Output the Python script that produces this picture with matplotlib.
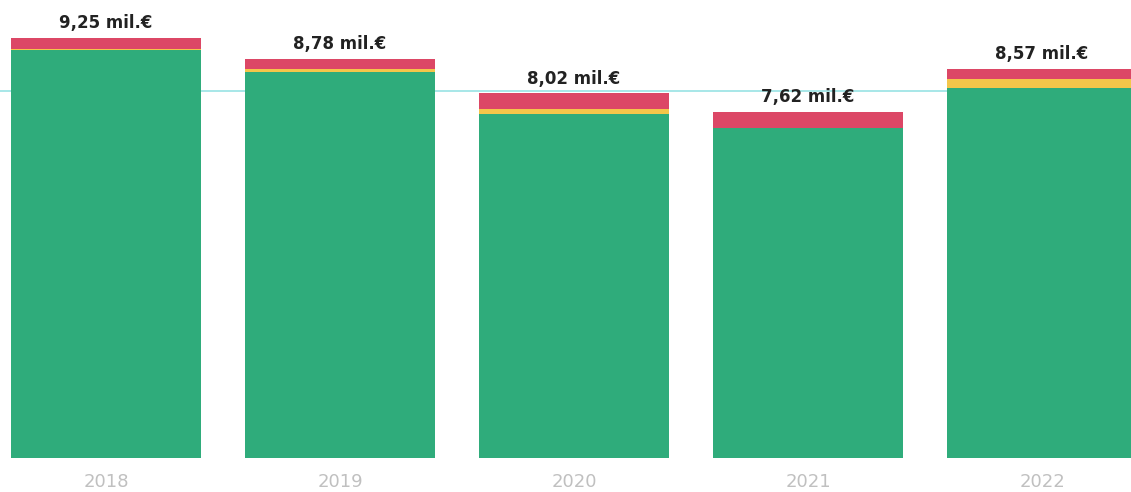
import matplotlib
matplotlib.use("Agg")
import matplotlib.pyplot as plt
import numpy as np

# Values in millions of euro
years = ["2018", "2019", "2020", "2021", "2022"]
green = [8.97, 8.50, 7.57, 7.25, 8.14]
yellow = [0.03, 0.07, 0.11, 0.00, 0.20]
red = [0.25, 0.21, 0.34, 0.37, 0.23]
totals = [9.25, 8.78, 8.02, 7.62, 8.57]
ref_line = 8.07  # faint cyan line crossing the scan

GREEN = "#2fac7b"
YELLOW = "#f4c64a"
RED = "#dc4766"
CYAN = "#8fe0e2"

fig = plt.figure(figsize=(11.31, 4.92), dpi=100)
ax = fig.add_axes([0, 0.0701, 1, 0.9299])

x = np.arange(len(years))
w = 0.81
g = np.array(green)
yl = np.array(yellow)
r = np.array(red)

ax.axhline(ref_line, color=CYAN, lw=1.1, zorder=0)
ax.bar(x, g, w, color=GREEN, zorder=2)
ax.bar(x, yl, w, bottom=g, color=YELLOW, zorder=2)
ax.bar(x, r, w, bottom=g + yl, color=RED, zorder=2)

for xi, t in zip(x, totals):
    ax.text(xi, t + 0.21, f"{t:.2f}".replace(".", ",") + " mil.€",
            ha="center", va="baseline", fontsize=12, fontweight="semibold",
            color="#222222", zorder=3)

ax.set_xlim(-0.453, 4.38)
ax.set_ylim(0, 10.08)
ax.set_xticks(x)
ax.set_xticklabels(years, color="#c0c0c0", fontsize=13)
ax.tick_params(axis="x", length=0, pad=11)
ax.set_yticks([])
for s in ax.spines.values():
    s.set_visible(False)

fig.savefig("out.png", dpi=100, facecolor="white")
